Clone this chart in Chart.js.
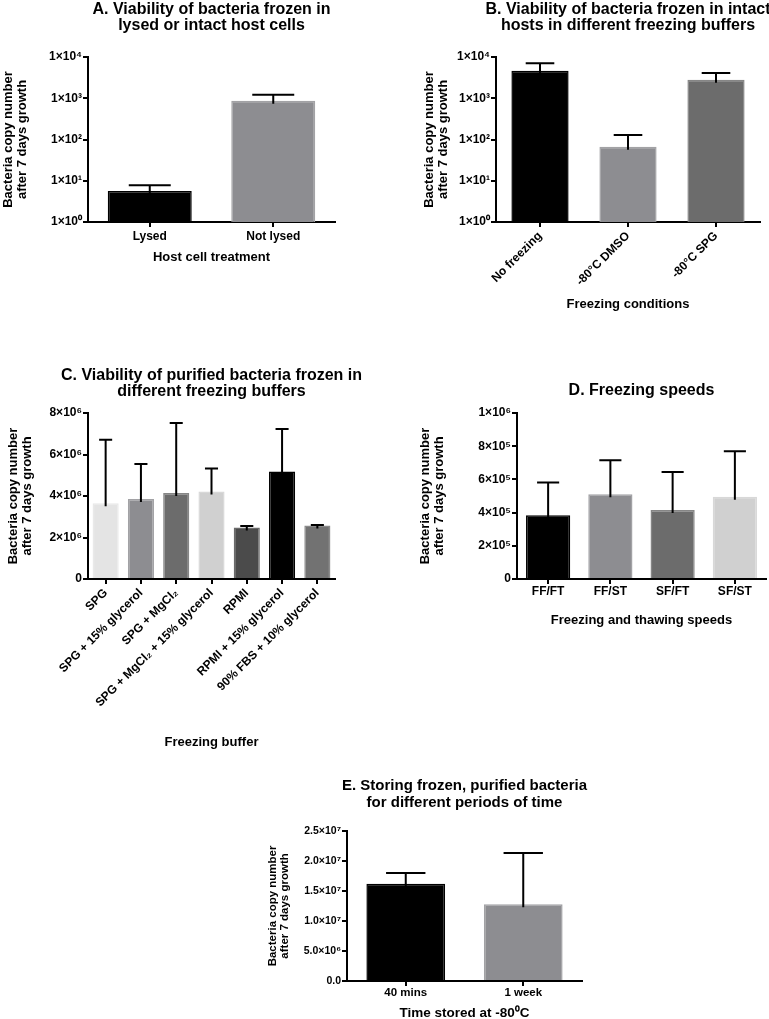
<!DOCTYPE html>
<html>
<head>
<meta charset="utf-8">
<script src="https://cdn.jsdelivr.net/npm/chart.js@4"></script>
<style>
  html, body { margin: 0; background: #fff; overflow: hidden; }
  canvas { position: absolute; }
</style>
</head>
<body>
<canvas id="chartA" width="423" height="265" style="left:0;top:0"></canvas>
<canvas id="chartB" width="450" height="312" style="left:384px;top:0"></canvas>
<canvas id="chartC" width="423" height="390" style="left:0;top:360px"></canvas>
<canvas id="chartD" width="481" height="268" style="left:384px;top:360px"></canvas>
<canvas id="chartE" width="413" height="261" style="left:250px;top:760px"></canvas>
<script>
// panel A - lysed vs intact hosts (log axis)
var catA = ['Lysed', 'Not lysed'];
var meanA = [5.65, 871];
var upperA = [7.75, 1220];

// panel B - freezing buffers, intact hosts (log axis)
var catB = ['No freezing', '-80°C DMSO', '-80°C SPG'];
var meanB = [4650, 67, 2800];
var upperB = [7100, 129, 4080];

// panel C - purified bacteria, freezing buffers
var catC = ['SPG', 'SPG + 15% glycerol', 'SPG + MgCl₂', 'SPG + MgCl₂ + 15% glycerol',
            'RPMI', 'RPMI + 15% glycerol', '90% FBS + 10% glycerol'];
var meanC = [3.65e6, 3.86e6, 4.14e6, 4.22e6, 2.48e6, 5.18e6, 2.58e6];
var upperC = [6.71e6, 5.54e6, 7.52e6, 5.33e6, 2.56e6, 7.23e6, 2.60e6];

// panel D - freezing speeds
var catD = ['FF/FT', 'FF/ST', 'SF/FT', 'SF/ST'];
var meanD = [3.84e5, 5.11e5, 4.16e5, 4.95e5];
var upperD = [5.81e5, 7.16e5, 6.44e5, 7.69e5];

// panel E - storage time
var catE = ['40 mins', '1 week'];
var meanE = [1.62e7, 1.28e7];
var upperE = [1.80e7, 2.13e7];

// tick values and labels
var logTicks = [1, 10, 100, 1000, 10000];
var logTickLabels = ['1×10⁰', '1×10¹', '1×10²', '1×10³', '1×10⁴'];
var ticksC = [0, 2e6, 4e6, 6e6, 8e6];
var tickLabelsC = ['0', '2×10⁶', '4×10⁶', '6×10⁶', '8×10⁶'];
var ticksD = [0, 2e5, 4e5, 6e5, 8e5, 1e6];
var tickLabelsD = ['0', '2×10⁵', '4×10⁵', '6×10⁵', '8×10⁵', '1×10⁶'];
var ticksE = [0, 5e6, 1e7, 1.5e7, 2e7, 2.5e7];
var tickLabelsE = ['0.0', '5.0×10⁶', '1.0×10⁷', '1.5×10⁷', '2.0×10⁷', '2.5×10⁷'];

// bar fills
var colorsA = ['#000000', '#8d8d91'];
var colorsB = ['#000000', '#8d8d91', '#6c6c6c'];
var colorsC = ['#e4e4e4', '#8d8d91', '#6c6c6c', '#d0d0d0', '#4b4b4b', '#000000', '#727272'];
var colorsD = ['#000000', '#8d8d91', '#6c6c6c', '#d0d0d0'];
var colorsE = ['#000000', '#8d8d91'];

Chart.defaults.font.family = '"Liberation Sans", Arial, sans-serif';
Chart.defaults.font.weight = 'bold';
Chart.defaults.color = '#000';

function lighten(hex) {
  var n = parseInt(hex.slice(1), 16);
  var r = (n >> 16) & 255, g = (n >> 8) & 255, b = n & 255;
  if (r + g + b === 0) return hex;
  var f = function (c) { return Math.min(255, Math.round(c + (255 - c) * 0.18)); };
  return 'rgb(' + f(r) + ',' + f(g) + ',' + f(b) + ')';
}

// upper error bars (mean -> mean + SD) drawn with the y scale
var errorBars = {
  id: 'errorBars',
  afterDatasetsDraw: function (chart) {
    var ctx = chart.ctx;
    var y = chart.scales.y;
    chart.data.datasets.forEach(function (ds, di) {
      if (!ds.upper) return;
      chart.getDatasetMeta(di).data.forEach(function (bar, i) {
        var top = y.getPixelForValue(ds.upper[i]);
        var half = bar.width * 0.25;
        ctx.save();
        ctx.strokeStyle = '#000';
        ctx.lineWidth = 2;
        ctx.beginPath();
        ctx.moveTo(bar.x, bar.y + 3);
        ctx.lineTo(bar.x, top);
        ctx.moveTo(bar.x - half, top);
        ctx.lineTo(bar.x + half, top);
        ctx.stroke();
        ctx.restore();
      });
    });
  }
};

function makeChart(id, o) {
  var yScale = {
    type: o.log ? 'logarithmic' : 'linear',
    min: o.tickVals[0],
    max: o.tickVals[o.tickVals.length - 1],
    afterBuildTicks: function (s) {
      s.ticks = o.tickVals.map(function (v) { return { value: v }; });
    },
    afterFit: function (s) { s.width = o.yWidth; },
    ticks: {
      autoSkip: false,
      padding: 1,
      font: { size: o.yTickSize },
      callback: function (v, i) { return o.tickLabels[i]; }
    },
    grid: { drawOnChartArea: false, color: '#000', lineWidth: 2, tickLength: 5 },
    border: { color: '#000', width: 2 },
    title: {
      display: true,
      text: ['Bacteria copy number', 'after 7 days growth'],
      font: { size: o.yTitleSize, lineHeight: 1.08 },
      padding: { top: o.yTitlePad, bottom: 0 }
    }
  };
  // empty right-hand box, same width as the y axis, so the chart title
  // sits centred over the plot like in the original figure
  var spacer = {
    position: 'right',
    afterFit: function (s) { s.width = o.yWidth; },
    ticks: { display: false },
    grid: { display: false, drawTicks: false },
    border: { display: false }
  };
  var xScale = {
    type: 'category',
    afterFit: function (s) { s.height = o.xHeight; },
    ticks: {
      autoSkip: false,
      minRotation: o.rot,
      maxRotation: o.rot,
      padding: o.xTickPad,
      font: { size: o.xTickSize }
    },
    grid: { drawOnChartArea: false, offset: false, color: '#000', lineWidth: 2, tickLength: 5 },
    border: { color: '#000', width: 2 },
    title: {
      display: true,
      text: o.xTitle,
      font: { size: o.xTitleSize, lineHeight: 1.18 },
      padding: { top: 0, bottom: 0 }
    }
  };
  return new Chart(document.getElementById(id), {
    type: 'bar',
    data: {
      labels: o.labels,
      datasets: [{
        data: o.values,
        upper: o.upper,
        backgroundColor: o.colors,
        borderColor: o.colors.map(lighten),
        borderWidth: 1.5,
        barPercentage: o.barPct,
        categoryPercentage: 1
      }]
    },
    options: {
      responsive: false,
      animation: false,
      layout: { padding: o.pad },
      plugins: {
        legend: { display: false },
        tooltip: { enabled: false },
        title: {
          display: true,
          text: o.title,
          color: '#000',
          font: { size: o.titleSize, weight: 'bold', lineHeight: o.titleLH },
          padding: o.titlePad
        }
      },
      scales: { x: xScale, y: yScale, spacer: spacer }
    },
    plugins: [errorBars]
  });
}

makeChart('chartA', {
  labels: catA, values: meanA, upper: upperA, colors: colorsA, barPct: 0.68,
  log: true, tickVals: logTicks, tickLabels: logTickLabels,
  title: ['A. Viability of bacteria frozen in', 'lysed or intact host cells'],
  titleSize: 16, titleLH: 1, titlePad: { top: 1.5, bottom: 23.5 },
  pad: { left: 0, right: 0, top: 0, bottom: 0 },
  yWidth: 88, yTickSize: 12, yTitleSize: 13, yTitlePad: 1,
  xHeight: 43, rot: 0, xTickPad: 2, xTickSize: 12,
  xTitle: 'Host cell treatment', xTitleSize: 13
});

makeChart('chartB', {
  labels: catB, values: meanB, upper: upperB, colors: colorsB, barPct: 0.65,
  log: true, tickVals: logTicks, tickLabels: logTickLabels,
  title: ['B. Viability of bacteria frozen in intact', 'hosts in different freezing buffers'],
  titleSize: 16, titleLH: 1, titlePad: { top: 2, bottom: 23 },
  pad: { left: 38, right: 0, top: 0, bottom: 0 },
  yWidth: 74, yTickSize: 12, yTitleSize: 13, yTitlePad: 0.5,
  xHeight: 90, rot: 45, xTickPad: 2, xTickSize: 12,
  xTitle: 'Freezing conditions', xTitleSize: 13
});

makeChart('chartC', {
  labels: catC, values: meanC, upper: upperC, colors: colorsC, barPct: 0.74,
  log: false, tickVals: ticksC, tickLabels: tickLabelsC,
  title: ['C. Viability of purified bacteria frozen in', 'different freezing buffers'],
  titleSize: 16, titleLH: 1, titlePad: { top: 7.5, bottom: 13.5 },
  pad: { left: 0, right: 0, top: 0, bottom: 0 },
  yWidth: 88, yTickSize: 12, yTitleSize: 13, yTitlePad: 6,
  xHeight: 171, rot: 45, xTickPad: 2, xTickSize: 12,
  xTitle: 'Freezing buffer', xTitleSize: 13
});

makeChart('chartD', {
  labels: catD, values: meanD, upper: upperD, colors: colorsD, barPct: 0.71,
  log: false, tickVals: ticksD, tickLabels: tickLabelsD,
  title: 'D. Freezing speeds',
  titleSize: 16, titleLH: 1, titlePad: { top: 23, bottom: 14 },
  pad: { left: 34, right: 0, top: 0, bottom: 0 },
  yWidth: 99, yTickSize: 12, yTitleSize: 13, yTitlePad: 0,
  xHeight: 49, rot: 0, xTickPad: 0, xTickSize: 12,
  xTitle: 'Freezing and thawing speeds', xTitleSize: 13
});

makeChart('chartE', {
  labels: catE, values: meanE, upper: upperE, colors: colorsE, barPct: 0.67,
  log: false, tickVals: ticksE, tickLabels: tickLabelsE,
  title: ['E. Storing frozen, purified bacteria', 'for different periods of time'],
  titleSize: 15, titleLH: 1.13, titlePad: { top: 17, bottom: 20 },
  pad: { left: 16, right: 0, top: 0, bottom: 0 },
  yWidth: 81, yTickSize: 10.5, yTitleSize: 11.5, yTitlePad: 0.5,
  xHeight: 40, rot: 0, xTickPad: 0, xTickSize: 11.5,
  xTitle: 'Time stored at -80⁰C', xTitleSize: 13.5
});
</script>
</body>
</html>
